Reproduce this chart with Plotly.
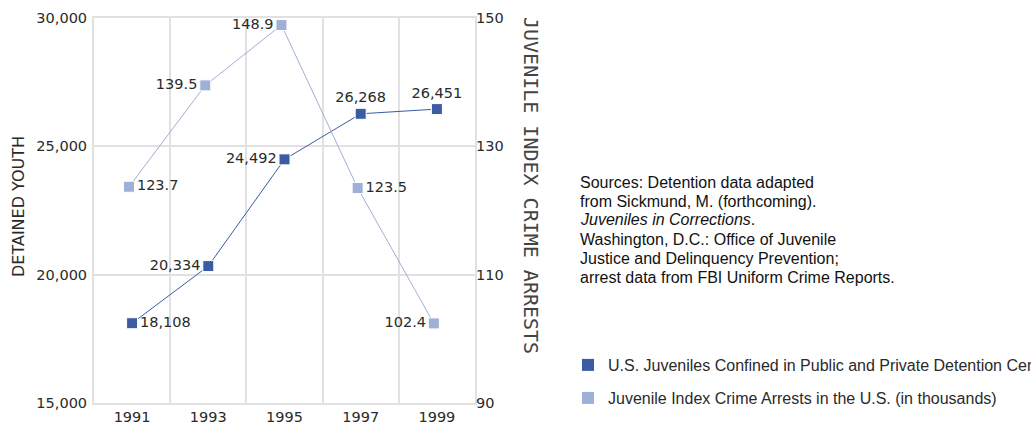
import plotly.graph_objects as go

years = ["1991", "1993", "1995", "1997", "1999"]
detained = [18108, 20334, 24492, 26268, 26451]
arrests = [123.7, 139.5, 148.9, 123.5, 102.4]
detained_labels = ["18,108", "20,334", "24,492", "26,268", "26,451"]
arrest_labels = ["123.7", "139.5", "148.9", "123.5", "102.4"]
left_ticks = [15000, 20000, 25000, 30000]
right_ticks = [90, 110, 130, 150]
series_names = ["U.S. Juveniles Confined in Public and Private Detention Centers",
                "Juvenile Index Crime Arrests in the U.S. (in thousands)"]
source_lines = [
    "Sources: Detention data adapted",
    "from Sickmund, M. (forthcoming).",
    "<i>Juveniles in Corrections</i>.",
    "Washington, D.C.: Office of Juvenile",
    "Justice and Delinquency Prevention;",
    "arrest data from FBI Uniform Crime Reports.",
]

DARK = "#3b5ca3"
LIGHT = "#9eb0d5"
GRID = "#e1e1e1"
NUMFONT = "DejaVu Sans"
TXTFONT = "Liberation Sans, Arial, sans-serif"
TXTCOL = "#2a2a2a"

W, H = 1031, 430
L, R, T, B = 94, 475, 18, 403

idx = list(range(len(years)))

fig = go.Figure()

fig.add_trace(go.Scatter(
    x=idx, y=detained, mode="lines+markers+text",
    text=detained_labels,
    textposition=["middle right", "middle left", "middle left", "top center", "top center"],
    textfont=dict(family=NUMFONT, size=14.5, color=TXTCOL),
    line=dict(color=DARK, width=1),
    marker=dict(symbol="square", size=11, color=DARK, line=dict(color="white", width=1)),
    showlegend=False, xaxis="x", yaxis="y", cliponaxis=False,
))

fig.add_trace(go.Scatter(
    x=idx, y=arrests, mode="lines+markers+text",
    text=arrest_labels,
    textposition=["middle right", "middle left", "middle left", "middle right", "middle left"],
    textfont=dict(family=NUMFONT, size=14.5, color=TXTCOL),
    line=dict(color=LIGHT, width=1),
    marker=dict(symbol="square", size=11, color=LIGHT, line=dict(color="white", width=1)),
    showlegend=False, xaxis="x2", yaxis="y2", cliponaxis=False,
))

# legend-only entries
fig.add_trace(go.Scatter(x=[None], y=[None], mode="markers", name=series_names[0],
                         marker=dict(symbol="square", size=12, color=DARK),
                         legend="legend", showlegend=True))
fig.add_trace(go.Scatter(x=[None], y=[None], mode="markers", name=series_names[1],
                         marker=dict(symbol="square", size=12, color=LIGHT),
                         legend="legend2", showlegend=True))

grid_vals = [i - 0.5 for i in range(len(years) + 1)]

fig.update_layout(
    width=W, height=H,
    margin=dict(l=L, r=W - R, t=T, b=H - B, autoexpand=False),
    paper_bgcolor="white", plot_bgcolor="white",
    xaxis=dict(
        range=[-0.5, len(years) - 0.5], automargin=False,
        tickmode="array", tickvals=idx, ticktext=years,
        showgrid=False, zeroline=False,
        showline=True, mirror=True, linecolor=GRID, linewidth=2,
        ticks="", ticklen=0,
        tickfont=dict(family=NUMFONT, size=14.5, color=TXTCOL),
        minor=dict(tickmode="array", tickvals=grid_vals, showgrid=True,
                   gridcolor=GRID, gridwidth=2, ticks=""),
    ),
    xaxis2=dict(
        range=[-0.46, len(years) - 0.46], overlaying="x", visible=False,
    ),
    yaxis=dict(
        range=[15000, 30000], tickmode="array", tickvals=left_ticks, automargin=False,
        tickformat=",", showgrid=True, gridcolor=GRID, gridwidth=2,
        zeroline=False, showline=True, mirror=True, linecolor=GRID, linewidth=2,
        tickfont=dict(family=NUMFONT, size=14.5, color=TXTCOL),
        ticks="", ticklabelstandoff=2,
    ),
    yaxis2=dict(
        range=[90, 150], overlaying="y", side="right", tickmode="array", automargin=False,
        tickvals=right_ticks, showgrid=False, zeroline=False, showline=False,
        tickfont=dict(family=NUMFONT, size=14.5, color=TXTCOL),
        ticks="",
    ),
    legend=dict(xref="container", yref="container", x=568 / W, y=1 - 348 / H,
                xanchor="left", yanchor="top", bgcolor="rgba(0,0,0,0)",
                font=dict(family=TXTFONT, size=16, color=TXTCOL)),
    legend2=dict(xref="container", yref="container", x=568 / W, y=1 - 381 / H,
                 xanchor="left", yanchor="top", bgcolor="rgba(0,0,0,0)",
                 font=dict(family=TXTFONT, size=16, color=TXTCOL)),
)

pw = R - L
ph = B - T

fig.add_annotation(
    text="DETAINED YOUTH", textangle=-90, showarrow=False,
    xref="paper", yref="paper", x=(18 - L) / pw, y=(B - 207) / ph,
    xanchor="center", yanchor="middle",
    font=dict(family=NUMFONT, size=16, color=TXTCOL),
)
fig.add_annotation(
    text="JUVENILE INDEX CRIME ARRESTS", textangle=90, showarrow=False,
    xref="paper", yref="paper", x=(531 - L) / pw, y=(B - 185) / ph,
    xanchor="center", yanchor="middle",
    font=dict(family="DejaVu Sans Mono", size=20, color="#444"),
)
for i, line in enumerate(source_lines):
    fig.add_annotation(
        text=line, showarrow=False, align="left",
        xref="paper", yref="paper", x=(578 - L) / pw, y=(B - (182 + 19 * i)) / ph,
        xanchor="left", yanchor="middle",
        font=dict(family=TXTFONT, size=16, color="#111"),
    )

fig.write_html("out.html", config={"displayModeBar": False},
               post_script="document.body.style.margin='0';document.body.style.padding='0';")
